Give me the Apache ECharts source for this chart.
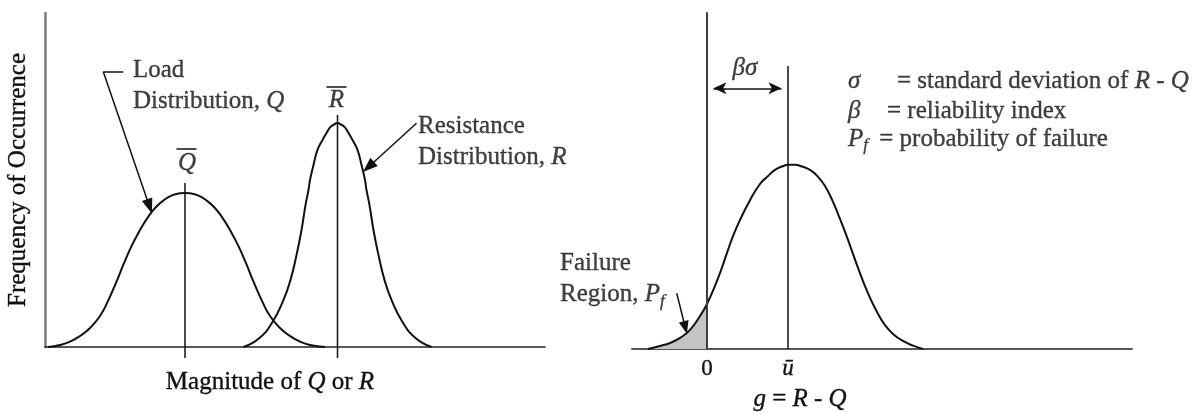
<!DOCTYPE html>
<html>
<head>
<meta charset="utf-8">
<script src="https://cdn.jsdelivr.net/npm/echarts@6/dist/echarts.min.js"></script>
<style>
  html, body { margin: 0; padding: 0; background: #fff; }
  #chart { width: 1199px; height: 414px; }
</style>
</head>
<body>
<div id="chart"></div>
<script>
// ---- Left panel: load Q and resistance R distributions, [magnitude, frequency]
const loadCurve = [
  [0.6, 0], [3.0, 0.6], [5.0, 1.6], [7.0, 3.3], [9.0, 5.7], [11.0, 9.3],
  [12.6, 13.8], [14.2, 19.2], [15.8, 25.1], [17.4, 30.5], [19.0, 35.0],
  [20.6, 38.9], [22.2, 41.9], [23.8, 44.0], [25.4, 45.4], [27.0, 46.0],
  [28.0, 46.1], [29.0, 46.0], [30.6, 45.4], [32.2, 44.0], [33.8, 41.9],
  [35.4, 38.9], [37.0, 35.0], [38.6, 30.5], [40.2, 25.1], [41.8, 19.2],
  [43.4, 13.8], [45.0, 9.3], [47.0, 5.7], [49.0, 3.3], [51.0, 1.6],
  [53.0, 0.6], [56.0, 0]
];
const resistanceCurve = [
  [39.7, 0], [42.9, 2.7], [45.5, 7.5], [47.7, 14.1], [49.1, 20.1], [50.3, 27.5],
  [51.3, 35.0], [52.1, 42.5], [52.7, 47.0], [53.0, 50.0], [53.7, 54.5],
  [54.5, 59.0], [55.5, 62.0], [56.3, 64.1], [57.1, 65.9], [57.7, 66.5],
  [58.5, 67.1],
  [59.3, 66.5], [59.9, 65.9], [60.7, 64.1], [61.5, 62.0], [62.5, 59.0],
  [63.3, 54.5], [64.0, 50.0], [64.3, 47.0], [64.9, 42.5], [65.7, 35.0],
  [66.7, 27.5], [67.9, 20.1], [69.3, 14.1], [71.5, 7.5], [74.1, 2.7], [77.3, 0]
];
const loadMean = 28;
const resistanceMean = 58.5;

// ---- Right panel: safety margin g = R - Q, [g, frequency]
const marginCurve = [
  [-11.8, 0], [-9.4, 0.9], [-7.4, 1.8], [-5.4, 3.3], [-3.4, 5.7], [-1.4, 9.8],
  [0, 13.4], [1.6, 18.8], [2.6, 22.6], [4.0, 28.6], [5.2, 33.6], [6.6, 38.4],
  [8.6, 44.3], [10.6, 49.1], [12.0, 51.2], [13.6, 53.3], [15.0, 54.3],
  [16.2, 54.8], [17.6, 54.8], [19.0, 54.3], [20.6, 53.3], [22.0, 51.6],
  [23.6, 48.5], [25.2, 43.8], [26.6, 38.7], [28.0, 33.3], [29.2, 28.3],
  [30.6, 22.6], [32.0, 17.3], [34.0, 11.0], [35.6, 7.1], [37.2, 4.5],
  [39.2, 2.4], [41.2, 1.0], [43.2, 0]
];
const marginMean = 16.2;
const failureLimit = 0;
const marginTicks = [failureLimit, marginMean];
const marginTickLabels = ['0', '{i|ū}'];

// the shaded failure region is the part of the margin curve with g <= 0
const failureTail = marginCurve.filter(p => p[0] <= failureLimit);

// ---- styling
const INK = '#111111';
const FONT = 'Liberation Serif';
const FS = 25;
const ink = { color: INK, textBorderColor: INK, textBorderWidth: 0.35 };
const RICH = {
  t:   Object.assign({ fontFamily: FONT, fontSize: FS, lineHeight: 30 }, ink),
  i:   Object.assign({ fontFamily: FONT, fontSize: FS, lineHeight: 30, fontStyle: 'italic' }, ink),
  sub: Object.assign({ fontFamily: FONT, fontSize: 17, lineHeight: 15, fontStyle: 'italic', verticalAlign: 'bottom' }, ink),
  s1:  Object.assign({ fontFamily: FONT, fontSize: FS, lineHeight: 30, fontStyle: 'italic', width: 49 }, ink),
  s2:  Object.assign({ fontFamily: FONT, fontSize: FS, lineHeight: 30, fontStyle: 'italic', width: 39 }, ink),
  s3:  Object.assign({ fontFamily: FONT, fontSize: 17, lineHeight: 15, fontStyle: 'italic', verticalAlign: 'bottom', width: 16 }, ink)
};

// annotation texts, anchored in each panel's data space
const leftNotes = [
  { at: [17.6, 82.9], text: '{t|Load}', align: 'left' },
  { at: [17.6, 73.4], text: '{t|Distribution, }{i|Q}', align: 'left' },
  { at: [loadMean + 0.4, 55.0], text: '{i|Q}', align: 'center' },
  { at: [resistanceMean - 0.2, 73.8], text: '{i|R}', align: 'center' },
  { at: [74.6, 65.9], text: '{t|Resistance}', align: 'left' },
  { at: [74.6, 56.9], text: '{t|Distribution, }{i|R}', align: 'left' }
];
const rightNotes = [
  { at: [7.6, 83.6], text: '{i|βσ}', align: 'center' },
  { at: [-29.4, 25.6], text: '{t|Failure}', align: 'left' },
  { at: [-29.4, 16.1], text: '{t|Region, }{i|P}{sub|f}', align: 'left' },
  { at: [28.2, 79.5], text: '{s1|σ}{t|= standard deviation of }{i|R}{t| - }{i|Q}', align: 'left' },
  { at: [28.2, 70.8], text: '{s2|β}{t|= reliability index}', align: 'left' },
  { at: [28.2, 62.5], text: '{i|P}{s3|f}{t|= probability of failure}', align: 'left' }
];

function noteSeries(axis, notes) {
  return {
    type: 'scatter', xAxisIndex: axis, yAxisIndex: axis, clip: false, silent: true,
    symbolSize: 0, animation: false, z: 6,
    label: { show: true, position: [0, 0], verticalAlign: 'middle', rich: RICH, color: INK },
    data: notes.map(n => ({ value: n.at, label: { formatter: n.text, align: n.align } }))
  };
}

function curve(axis, data, width) {
  return {
    type: 'line', xAxisIndex: axis, yAxisIndex: axis, data: data, smooth: 0.5,
    symbol: 'none', silent: true, animation: false, z: 3,
    lineStyle: { color: INK, width: width }
  };
}

function segment(axis, data, width, extra) {
  return Object.assign({
    type: 'line', xAxisIndex: axis, yAxisIndex: axis, data: data, clip: false,
    symbol: 'none', silent: true, animation: false, z: 4,
    lineStyle: { color: INK, width: width }
  }, extra || {});
}

function pointer(from, to, sym, size) {
  return [{ coord: from }, { coord: to, symbol: sym, symbolSize: size }];
}

const markBase = {
  silent: true, animation: false, symbol: 'none', label: { show: false },
  lineStyle: { color: INK, width: 1.5, type: 'solid' }
};

const hidden = { axisTick: { show: false }, axisLabel: { show: false }, splitLine: { show: false } };

const option = {
  backgroundColor: '#ffffff',
  animation: false,
  grid: [
    { left: 45, top: 13, width: 500, height: 334, outerBoundsMode: 'none' },
    { left: 632, top: 13, width: 500, height: 336, outerBoundsMode: 'none' }
  ],
  xAxis: [
    Object.assign({
      type: 'value', gridIndex: 0, min: 0, max: 100,
      axisLine: { lineStyle: { color: '#222', width: 1.6 } },
      name: '{t|Magnitude of }{i|Q}{t| or }{i|R}', nameLocation: 'middle', nameGap: 20,
      nameTextStyle: { rich: RICH, padding: [0, 50, 0, 0] }
    }, hidden),
    {
      type: 'value', gridIndex: 1, min: -15, max: 85,
      axisLine: { lineStyle: { color: '#555', width: 2 } },
      axisTick: { show: false }, splitLine: { show: false },
      axisLabel: {
        customValues: marginTicks, margin: 8,
        formatter: v => marginTickLabels[marginTicks.indexOf(v)],
        fontFamily: FONT, fontSize: 23, color: INK, textBorderColor: INK, textBorderWidth: 0.35,
        rich: { i: Object.assign({ fontFamily: FONT, fontSize: 23, fontStyle: 'italic' }, ink) }
      },
      name: '{i|g}{t| = }{i|R}{t| - }{i|Q}', nameLocation: 'middle', nameGap: 35,
      nameTextStyle: { rich: RICH, padding: [0, 164, 0, 0] }
    }
  ],
  yAxis: [
    Object.assign({
      type: 'value', gridIndex: 0, min: 0, max: 100,
      axisLine: { lineStyle: { color: '#7a7a7a', width: 2.5 } },
      name: 'Frequency of Occurrence', nameLocation: 'middle', nameRotate: 90, nameGap: 14,
      nameTextStyle: Object.assign({ fontFamily: FONT, fontSize: FS }, ink)
    }, hidden),
    Object.assign({
      type: 'value', gridIndex: 1, min: 0, max: 100, z: 5,
      axisLine: { onZero: true, lineStyle: { color: '#3c3c3c', width: 2 } }
    }, hidden)
  ],
  series: [
    curve(0, loadCurve, 2),
    curve(0, resistanceCurve, 2),
    segment(0, [[loadMean, -3.3], [loadMean, 49.1]], 1.5),
    segment(0, [[resistanceMean, -3.3], [resistanceMean, 69.5]], 1.5, {
      markLine: Object.assign({}, markBase, {
        data: [
          [{ coord: [11.66, 82.4] }, { coord: [15.66, 82.4] }],
          pointer([11.66, 82.4], [20.9, 42.1], 'triangle', [11, 15]),
          pointer([74.3, 67.0], [64.7, 53.9], 'triangle', [11, 15]),
          [{ coord: [26.3, 59.5] }, { coord: [30.3, 59.5] }],
          [{ coord: [56.3, 77.9] }, { coord: [60.3, 77.9] }]
        ]
      })
    }),
    {
      type: 'line', xAxisIndex: 1, yAxisIndex: 1, data: failureTail, smooth: 0.5,
      symbol: 'none', silent: true, animation: false, z: 2,
      lineStyle: { width: 0 }, areaStyle: { color: '#c4c4c4', opacity: 1 }
    },
    curve(1, marginCurve, 2),
    segment(1, [[marginMean, 0], [marginMean, 84.2]], 1.5, {
      markLine: Object.assign({}, markBase, {
        data: [
          [{ coord: [1.3, 77.6], symbol: 'arrow', symbolSize: [9, 13] },
           { coord: [marginMean - 1.3, 77.6], symbol: 'arrow', symbolSize: [9, 13] }],
          pointer([-6.06, 16.6], [-4.34, 6.4], 'triangle', [10, 13])
        ]
      })
    }),
    noteSeries(0, leftNotes),
    noteSeries(1, rightNotes)
  ]
};

const chart = echarts.init(document.getElementById('chart'), null, { renderer: 'canvas' });
chart.setOption(option);
</script>
</body>
</html>
